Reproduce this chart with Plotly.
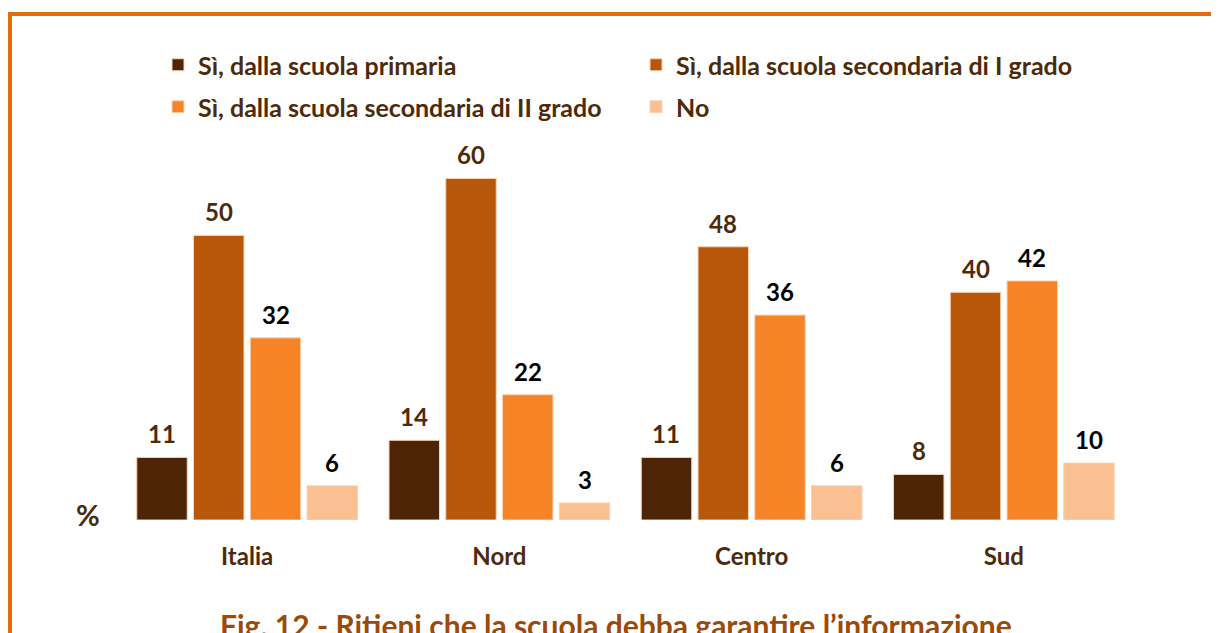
import plotly.graph_objects as go

categories = ["Italia", "Nord", "Centro", "Sud"]
series_names = [
    "Sì, dalla scuola primaria",
    "Sì, dalla scuola secondaria di I grado",
    "Sì, dalla scuola secondaria di II grado",
    "No",
]
primaria = [11, 14, 11, 8]
secondaria_I = [50, 60, 48, 40]
secondaria_II = [32, 22, 36, 42]
no_values = [6, 3, 6, 10]
all_values = [primaria, secondaria_I, secondaria_II, no_values]

colors = ["#4D2406", "#B8560A", "#F68427", "#FAC091"]
label_colors = ["#4D2A0A", "#4D2A0A", "#000000", "#000000"]
legend_ids = ["legend", "legend", "legend2", "legend2"]

FONT = "Lato"
BROWN = "#4D2A0A"

# page offset (body margin) compensation
OFF = 8
W, H = 1219, 633
PLOT_L, PLOT_R, PLOT_T, PLOT_B = 121 - OFF, 1130 - OFF, 150 - OFF, 520 - OFF
ML, MR, MT, MB = PLOT_L, W - PLOT_R, PLOT_T, H - PLOT_B
PW, PH = PLOT_R - PLOT_L, PLOT_B - PLOT_T

def xp(p):
    return (p - OFF - PLOT_L) / PW

def yp(p):
    return (PLOT_B - (p - OFF)) / PH

bar_w = 0.2
step = 0.225
start = -0.4375

fig = go.Figure()
annotations = []
for k, (name, vals) in enumerate(zip(series_names, all_values)):
    off = start + k * step
    fig.add_trace(go.Bar(
        x=categories, y=vals, name=name,
        offset=off, width=bar_w,
        marker=dict(color=colors[k], line=dict(color="#F7D3B5", width=1)),
        legend=legend_ids[k],
        hoverinfo="x+y+name",
    ))
    for i, v in enumerate(vals):
        annotations.append(dict(
            x=i + off + bar_w / 2, y=v, xref="x", yref="y",
            text=str(v), showarrow=False, yanchor="bottom", yshift=7,
            font=dict(family=FONT, size=24, color=label_colors[k], weight="bold"),
        ))

annotations.append(dict(
    x=xp(88), y=yp(514), xref="paper", yref="paper",
    text="%", showarrow=False, xanchor="center", yanchor="middle",
    font=dict(family=FONT, size=29, color=BROWN, weight="bold"),
))
annotations.append(dict(
    x=xp(616), y=yp(625), xref="paper", yref="paper",
    text="Fig. 12 - Ritieni che la scuola debba garantire l’informazione",
    showarrow=False, xanchor="center", yanchor="middle",
    font=dict(family=FONT, size=30, color="#9C4A0A", weight="bold"),
))

legend_common = dict(
    orientation="h", xref="container", yref="container",
    xanchor="left", yanchor="middle",
    entrywidth=433, entrywidthmode="pixels",
    font=dict(family=FONT, size=25, color=BROWN, weight="bold"),
    bgcolor="rgba(0,0,0,0)",
)

fig.update_layout(
    width=W, height=H,
    margin=dict(l=ML, r=MR, t=MT, b=MB),
    paper_bgcolor="white", plot_bgcolor="white",
    font=dict(family=FONT, size=24, color=BROWN, weight="bold"),
    barmode="group",
    showlegend=True,
    legend=dict(legend_common, x=(158 - OFF) / W, y=1 - (65 - OFF) / H),
    legend2=dict(legend_common, x=(158 - OFF) / W, y=1 - (107 - OFF) / H),
    xaxis=dict(
        showline=False, ticks="", showgrid=False,
        tickfont=dict(family=FONT, size=24, color=BROWN, weight="bold"),
        ticklabelstandoff=20,
    ),
    yaxis=dict(
        range=[0, 65], showgrid=False, showticklabels=False,
        zeroline=False, showline=False, ticks="",
    ),
    annotations=annotations,
    shapes=[dict(
        type="rect", xref="paper", yref="paper",
        x0=xp(10), x1=1.3, y0=-0.6, y1=yp(14),
        line=dict(color="#E46C0A", width=4), fillcolor="rgba(0,0,0,0)",
        layer="below",
    )],
)

fig.write_html("out.html")
